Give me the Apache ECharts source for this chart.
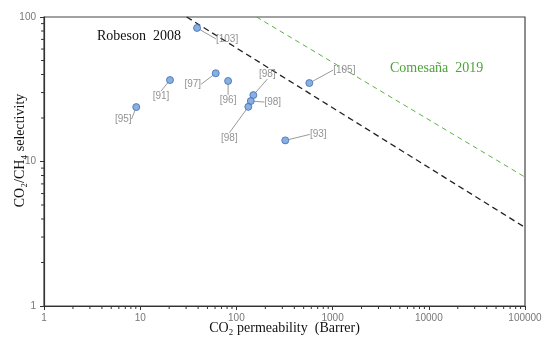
<!DOCTYPE html>
<html>
<head>
<meta charset="utf-8">
<script src="https://cdn.jsdelivr.net/npm/echarts@6/dist/echarts.min.js"></script>
<style>html,body{margin:0;padding:0;background:#fff}#c{width:550px;height:345px}</style>
</head>
<body>
<div id="c"></div>
<script>
// Data
const refLabels = ['[103]', '[91]', '[95]', '[97]', '[96]', '[98]', '[98]', '[98]', '[105]', '[93]'];
const permeability = [39, 20.4, 9.1, 61, 82, 150, 141, 133, 573, 322];
const selectivity = [84, 36.6, 23.8, 40.8, 36.1, 28.8, 26.2, 23.9, 34.9, 14.0];
const robesonLine = [[30.4, 100], [100000, 3.5]];
const comesanaLine = [[162, 100], [100000, 7.8]];
const xTickLabels = ['1', '10', '100', '1000', '10000', '100000'];
const yTickLabels = ['1', '10', '100'];

// Layout (label offsets in pixels)
const labelOffsets = [[30, 11], [-9, 16], [-13, 12], [-23, 11], [0, 19], [14, -21], [22, 1], [-19, 31], [35, -13], [33, -6]];

const xMinor = [], yMinor = [];
for (let e = 0; e < 5; e++) for (let k = 2; k <= 9; k++) xMinor.push(k * Math.pow(10, e));
for (let e = 0; e < 2; e++) for (let k = 2; k <= 9; k++) yMinor.push(k * Math.pow(10, e));

const chart = echarts.init(document.getElementById('c'));
const tickColor = '#333';
chart.setOption({
  animation: false,
  grid: {left: 44, right: 25, top: 17, bottom: 39, show: true, borderColor: '#444', borderWidth: 1.2,
    containLabel: false, outerBoundsMode: 'none'},
  xAxis: {
    type: 'log', logBase: 10, min: 1, max: 100000,
    name: 'CO\u2082 permeability  (Barrer)', nameLocation: 'middle', nameGap: 15, nameMoveOverlap: false,
    nameTextStyle: {fontFamily: 'Liberation Serif', fontSize: 14, color: '#111'},
    axisLine: {lineStyle: {color: tickColor, width: 1.2}},
    axisTick: {show: true, length: 4, lineStyle: {color: tickColor}},
    axisLabel: {color: '#777', fontSize: 10, margin: 7, fontFamily: 'Liberation Sans',
      formatter: v => xTickLabels[Math.round(Math.log10(v))] || ''},
    splitLine: {show: false}
  },
  yAxis: {
    type: 'log', logBase: 10, min: 1, max: 100,
    name: 'CO\u2082/CH\u2084 selectivity', nameLocation: 'middle', nameGap: 17, nameMoveOverlap: false,
    nameTextStyle: {fontFamily: 'Liberation Serif', fontSize: 14, color: '#111', padding: [0, 0, 0, 22]},
    axisLine: {lineStyle: {color: tickColor, width: 1.2}},
    axisTick: {show: true, length: 4, lineStyle: {color: tickColor}},
    axisLabel: {color: '#777', fontSize: 10, margin: 8, fontFamily: 'Liberation Sans',
      formatter: v => yTickLabels[Math.round(Math.log10(v))] || ''},
    splitLine: {show: false}
  },
  graphic: [
    {type: 'text', left: 97, top: 29, style: {text: 'Robeson  2008', font: '14px "Liberation Serif"', fill: '#111'}},
    {type: 'text', left: 390, top: 61, style: {text: 'Comesaña  2019', font: '14px "Liberation Serif"', fill: '#4ea23a'}}
  ],
  series: [
    {
      type: 'line', data: robesonLine, symbol: 'none', silent: true,
      lineStyle: {color: '#222', width: 1.3, type: [6, 4]}
    },
    {
      type: 'line', data: comesanaLine, symbol: 'none', silent: true,
      lineStyle: {color: '#5cb045', width: 1, type: [5, 4]}
    },
    {
      type: 'custom', silent: true, clip: false,
      data: xMinor.map(v => [v, 1]),
      renderItem: (params, api) => {
        const p = api.coord([api.value(0), api.value(1)]);
        return {type: 'line', shape: {x1: p[0], y1: p[1], x2: p[0], y2: p[1] + 3}, style: {stroke: tickColor, lineWidth: 1}};
      }
    },
    {
      type: 'custom', silent: true, clip: false,
      data: yMinor.map(v => [1, v]),
      renderItem: (params, api) => {
        const p = api.coord([api.value(0), api.value(1)]);
        return {type: 'line', shape: {x1: p[0] - 3, y1: p[1], x2: p[0], y2: p[1]}, style: {stroke: tickColor, lineWidth: 1}};
      }
    },
    {
      type: 'scatter', symbolSize: 7,
      data: permeability.map((x, i) => ({value: [x, selectivity[i]], name: refLabels[i]})),
      itemStyle: {color: '#6b9ad8', borderColor: '#3d6db5', borderWidth: 1},
      label: {show: true, formatter: p => p.name, color: '#777', fontSize: 10, fontFamily: 'Liberation Sans', position: 'inside'},
      labelLayout: p => ({dx: labelOffsets[p.dataIndex][0], dy: labelOffsets[p.dataIndex][1]}),
      labelLine: {show: true, lineStyle: {color: '#999', width: 1}},
      z: 5
    }
  ]
});
</script>
</body>
</html>
